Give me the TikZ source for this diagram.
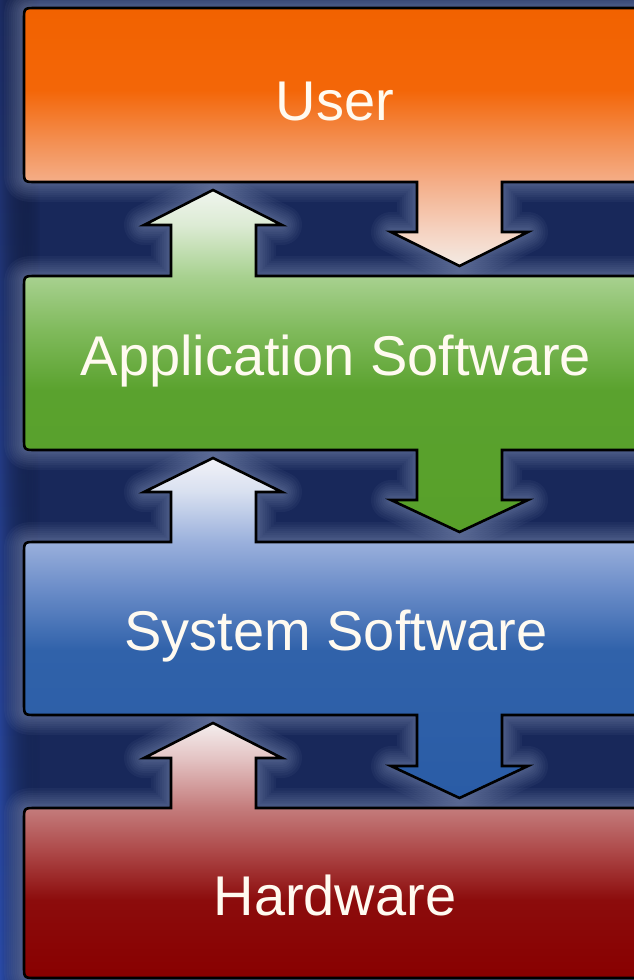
\documentclass[tikz,border=0pt]{standalone}
\usepackage{fontspec}
\setmainfont{Liberation Sans}
\usetikzlibrary{fadings}
\definecolor{navy}{HTML}{18285A}
\definecolor{stripTop}{HTML}{1C2C62}
\definecolor{stripBot}{HTML}{2A4AA6}
\definecolor{glowc}{HTML}{7E8CB4}
\definecolor{txt}{HTML}{FFFAF0}
% user
\definecolor{uA}{HTML}{F4EBE4}
\definecolor{uB}{HTML}{F5D2C0}
\definecolor{uC}{HTML}{F4AE88}
\definecolor{uD}{HTML}{F38E50}
\definecolor{uE}{HTML}{F36608}
\definecolor{uF}{HTML}{F26200}
% green
\definecolor{gA}{HTML}{F0F5EE}
\definecolor{gB}{HTML}{DCEBD4}
\definecolor{gC}{HTML}{A8D190}
\definecolor{gD}{HTML}{80BA5C}
\definecolor{gE}{HTML}{5AA22E}
\definecolor{gF}{HTML}{58A02A}
% blue
\definecolor{bA}{HTML}{F2F2F8}
\definecolor{bB}{HTML}{D8E0F0}
\definecolor{bC}{HTML}{9AB0DC}
\definecolor{bD}{HTML}{6A8CC8}
\definecolor{bE}{HTML}{3062AA}
\definecolor{bF}{HTML}{2A5CA6}
% red
\definecolor{rA}{HTML}{F4EEEE}
\definecolor{rB}{HTML}{E4C4C4}
\definecolor{rC}{HTML}{C47C7C}
\definecolor{rD}{HTML}{AE4A4A}
\definecolor{rE}{HTML}{8C0C0C}
\definecolor{rF}{HTML}{880000}
\pgfdeclareverticalshading{usershade}{100bp}{color(0bp)=(uA); color(25bp)=(uA); color(31.98bp)=(uB); color(41.28bp)=(uC); color(49.42bp)=(uD); color(59.1bp)=(uE); color(75bp)=(uF); color(100bp)=(uF)}
\pgfdeclareverticalshading{appshade}{100bp}{color(0bp)=(gF); color(25bp)=(gF); color(45.76bp)=(gE); color(54.53bp)=(gD); color(62.43bp)=(gC); color(69.88bp)=(gB); color(75bp)=(gA); color(100bp)=(gA)}
\pgfdeclareverticalshading{sysshade}{100bp}{color(0bp)=(bF); color(25bp)=(bF); color(46.76bp)=(bE); color(55.59bp)=(bD); color(62.65bp)=(bC); color(70bp)=(bB); color(75bp)=(bA); color(100bp)=(bA)}
\pgfdeclareverticalshading{hwshade}{100bp}{color(0bp)=(rF); color(25bp)=(rF); color(40.29bp)=(rE); color(50.1bp)=(rD); color(58.33bp)=(rC); color(68.14bp)=(rB); color(75bp)=(rA); color(100bp)=(rA)}
\tikzfading[name=fadeR, left color=transparent!0, right color=transparent!100]
\begin{document}
\begin{tikzpicture}[x=1pt,y=-1pt,
  glowline/.style={draw=glowc, line join=round, draw opacity=0.07},
  layer/.style={draw=black, line width=2.6pt, line join=miter},
  label/.style={anchor=base, text=txt, inner sep=0pt, font=\fontsize{56}{60}\selectfont}]
\useasboundingbox (0,0) rectangle (634,980);
\clip (0,0) rectangle (634,980);
\fill[navy] (0,0) rectangle (634,980);
\fill[top color=stripTop, bottom color=stripBot, path fading=fadeR] (0,0) rectangle (40,980);
% shape paths
\def\userpath{(660,8) -- (36,8) .. controls (24,8) .. (24,20) -- (24,170) .. controls (24,182) .. (36,182) -- (417,182) -- (417,232) -- (391,232) -- (459.5,266) -- (528,232) -- (502,232) -- (502,182) -- (660,182) -- cycle}
\def\apppath{(660,276) -- (256,276) -- (256,225) -- (282,225) -- (213,190) -- (144,225) -- (171,225) -- (171,276) -- (36,276) .. controls (24,276) .. (24,288) -- (24,438) .. controls (24,450) .. (36,450) -- (417,450) -- (417,500) -- (391,500) -- (459.5,532) -- (528,500) -- (502,500) -- (502,450) -- (660,450) -- cycle}
\def\syspath{(660,542) -- (256,542) -- (256,492) -- (282,492) -- (213,458) -- (144,492) -- (171,492) -- (171,542) -- (36,542) .. controls (24,542) .. (24,554) -- (24,703) .. controls (24,715) .. (36,715) -- (417,715) -- (417,766) -- (391,766) -- (459.5,798) -- (528,766) -- (502,766) -- (502,715) -- (660,715) -- cycle}
\def\hwpath{(660,808) -- (256,808) -- (256,758) -- (282,758) -- (213,723) -- (144,758) -- (171,758) -- (171,808) -- (36,808) .. controls (24,808) .. (24,820) -- (24,966) .. controls (24,978) .. (36,978) -- (660,978) -- cycle}
% glows (soft halo built from stacked translucent strokes)
\foreach \p in {\userpath,\apppath,\syspath,\hwpath}{
  \foreach \w in {40,35,30,26,22,18,14,11,8,5}{
    \path[glowline, line width=\w pt] \p;
  }
}
% layers
\path[layer, shading=usershade] \userpath;
\path[layer, shading=appshade] \apppath;
\path[layer, shading=sysshade] \syspath;
\path[layer, shading=hwshade] \hwpath;
% labels
\node[label] (user) at (335,120) {User};
\node[label] (app) at (336,375) {Application Software};
\node[label] (sys) at (336,650) {System Software};
\node[label] (hw) at (335,915) {Hardware};
\end{tikzpicture}
\end{document}
